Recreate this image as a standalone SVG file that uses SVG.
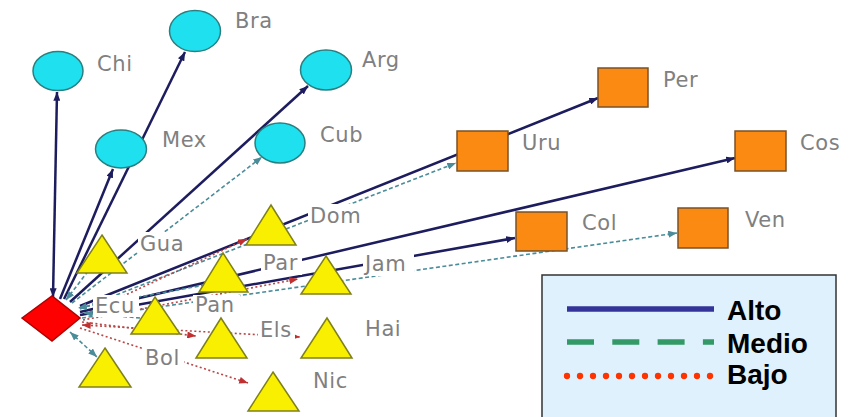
<svg xmlns="http://www.w3.org/2000/svg" width="854" height="417" viewBox="0 0 854 417">
<style>
.alto{stroke:#1c1c5e;stroke-width:2.5;fill:none}
.medio{stroke:#4a8c99;stroke-width:1.6;stroke-dasharray:4 2.5;fill:none}
.bajo{stroke:#b84646;stroke-width:1.6;stroke-dasharray:2 2.5;fill:none}
.circ{fill:#1fe0ee;stroke:#2b7f80;stroke-width:1.5}
.sq{fill:#fb8a12;stroke:#7a5228;stroke-width:1.5}
.tri{fill:#f8f000;stroke:#80801a;stroke-width:1.5}
.lbl{font-family:"DejaVu Sans",Verdana,sans-serif;font-size:21px;fill:#808080;letter-spacing:0.6px}
.bg{fill:#ffffff}
.leg{font-family:"Liberation Sans",Arial,sans-serif;font-size:28px;font-weight:bold;fill:#000}
</style>
<defs>
<marker id="aN" viewBox="0 0 10 8" markerWidth="9" markerHeight="7" refX="10" refY="4" orient="auto-start-reverse" markerUnits="userSpaceOnUse"><path d="M0,0 L10,4 L0,8 z" fill="#1c1c5e"/></marker>
<marker id="aT" viewBox="0 0 10 8" markerWidth="9" markerHeight="7" refX="10" refY="4" orient="auto-start-reverse" markerUnits="userSpaceOnUse"><path d="M0,0 L10,4 L0,8 z" fill="#4a8c99"/></marker>
<marker id="aR" viewBox="0 0 10 8" markerWidth="9" markerHeight="7" refX="10" refY="4" orient="auto-start-reverse" markerUnits="userSpaceOnUse"><path d="M0,0 L10,4 L0,8 z" fill="#c03030"/></marker>
</defs>
<rect width="854" height="417" fill="#ffffff"/>
<g id="connectors">
<line class="alto" x1="53" y1="297" x2="57" y2="92" marker-start="url(#aN)" marker-end="url(#aN)"/>
<line class="alto" x1="60" y1="299" x2="113" y2="169" marker-end="url(#aN)"/>
<line class="alto" x1="64" y1="299" x2="185" y2="52" marker-end="url(#aN)"/>
<line class="alto" x1="70" y1="302" x2="308" y2="86" marker-end="url(#aN)"/>
<line class="medio" x1="72" y1="303" x2="262" y2="157" marker-end="url(#aT)"/>
<line class="medio" x1="92" y1="266" x2="66" y2="300" marker-end="url(#aT)"/>
<line class="alto" x1="80" y1="306" x2="598" y2="98" marker-end="url(#aN)"/>
<line class="medio" x1="80" y1="309" x2="456" y2="163" marker-end="url(#aT)"/>
<line class="bajo" x1="82" y1="315" x2="247" y2="239" marker-end="url(#aR)"/>
<line class="alto" x1="80" y1="312" x2="735" y2="158" marker-end="url(#aN)"/>
<line class="alto" x1="80" y1="315" x2="515" y2="238" marker-end="url(#aN)"/>
<line class="medio" x1="82" y1="318" x2="677" y2="233" marker-end="url(#aT)"/>
<line class="bajo" x1="83" y1="320" x2="298" y2="279" marker-end="url(#aR)"/>
<line class="medio" x1="205" y1="285" x2="78" y2="308" marker-end="url(#aT)"/>
<line class="medio" x1="140" y1="318" x2="84" y2="313" marker-end="url(#aT)"/>
<line class="bajo" x1="82" y1="322" x2="196" y2="336" marker-end="url(#aR)"/>
<line class="bajo" x1="82" y1="325" x2="300" y2="337" marker-start="url(#aR)" marker-end="url(#aR)"/>
<line class="bajo" x1="80" y1="328" x2="248" y2="383" marker-end="url(#aR)"/>
<line class="medio" x1="70" y1="332" x2="97" y2="357" marker-start="url(#aT)" marker-end="url(#aT)"/>
</g>
<g id="Ecu"><polygon points="22,318 52,296 80,318 52,341" fill="#ff0000" stroke="#b00000" stroke-width="1.5"/><rect class="bg" x="93" y="295" width="46" height="22"/><text class="lbl" x="95" y="313">Ecu</text></g>
<g id="Chi"><ellipse class="circ" cx="58" cy="71" rx="25" ry="19.5"/><rect class="bg" x="95" y="53" width="40" height="22"/><text class="lbl" x="97" y="71">Chi</text></g>
<g id="Bra"><ellipse class="circ" cx="195" cy="31" rx="25.5" ry="20.5"/><rect class="bg" x="233" y="10" width="42" height="22"/><text class="lbl" x="235" y="28">Bra</text></g>
<g id="Arg"><ellipse class="circ" cx="326" cy="70" rx="25.5" ry="20"/><rect class="bg" x="360" y="49" width="45" height="23"/><text class="lbl" x="362" y="67">Arg</text></g>
<g id="Mex"><ellipse class="circ" cx="121" cy="149" rx="25.5" ry="19"/><rect class="bg" x="160" y="129" width="49" height="22"/><text class="lbl" x="162" y="147">Mex</text></g>
<g id="Cub"><ellipse class="circ" cx="280" cy="143" rx="25" ry="20"/><rect class="bg" x="318" y="124" width="47" height="22"/><text class="lbl" x="320" y="142">Cub</text></g>
<g id="Per"><rect class="sq" x="598" y="68" width="50" height="39"/><rect class="bg" x="661" y="69" width="39" height="22"/><text class="lbl" x="663" y="87">Per</text></g>
<g id="Uru"><rect class="sq" x="457" y="131" width="51" height="40"/><rect class="bg" x="520" y="132" width="45" height="22"/><text class="lbl" x="522" y="150">Uru</text></g>
<g id="Cos"><rect class="sq" x="735" y="131" width="51" height="40"/><rect class="bg" x="798" y="132" width="46" height="22"/><text class="lbl" x="800" y="150">Cos</text></g>
<g id="Col"><rect class="sq" x="516" y="212" width="51" height="39"/><rect class="bg" x="580" y="212" width="39" height="22"/><text class="lbl" x="582" y="230">Col</text></g>
<g id="Ven"><rect class="sq" x="678" y="208" width="50" height="40"/><rect class="bg" x="743" y="209" width="46" height="22"/><text class="lbl" x="745" y="227">Ven</text></g>
<g id="Gua"><polygon class="tri" points="102,235 127,273 77,273"/><rect class="bg" x="138" y="232" width="51" height="24"/><text class="lbl" x="140" y="251">Gua</text></g>
<g id="Dom"><polygon class="tri" points="271,205 296,245 246,245"/><rect class="bg" x="308" y="204" width="59" height="23"/><text class="lbl" x="310" y="223">Dom</text></g>
<g id="Par"><polygon class="tri" points="223,253 248,292 199,292"/><rect class="bg" x="261" y="252" width="41" height="23"/><text class="lbl" x="263" y="270">Par</text></g>
<g id="Jam"><polygon class="tri" points="326,256 351,294 301,294"/><rect class="bg" x="363" y="253" width="51" height="23"/><text class="lbl" x="365" y="271">Jam</text></g>
<g id="Pan"><polygon class="tri" points="155,297 180,334 131,334"/><rect class="bg" x="193" y="295" width="47" height="22"/><text class="lbl" x="195" y="312">Pan</text></g>
<g id="Els"><polygon class="tri" points="221,318 247,358 196,358"/><rect class="bg" x="258" y="319" width="37" height="22"/><text class="lbl" x="260" y="337">Els</text></g>
<g id="Hai"><polygon class="tri" points="327,318 352,358 301,358"/><rect class="bg" x="363" y="318" width="42" height="22"/><text class="lbl" x="365" y="336">Hai</text></g>
<g id="Bol"><polygon class="tri" points="105,348 131,387 79,387"/><rect class="bg" x="143" y="347" width="41" height="22"/><text class="lbl" x="145" y="365">Bol</text></g>
<g id="Nic"><polygon class="tri" points="273,372 299,411 248,411"/><rect class="bg" x="311" y="370" width="41" height="22"/><text class="lbl" x="313" y="388">Nic</text></g>
<g id="legend">
<rect x="542" y="275" width="294" height="160" fill="#dff1fd" stroke="#333333" stroke-width="1.5"/>
<line x1="567" y1="309" x2="714" y2="309" stroke="#333399" stroke-width="5.5"/>
<line x1="567" y1="342" x2="714" y2="342" stroke="#339966" stroke-width="5.5" stroke-dasharray="27 18.3"/>
<line x1="567" y1="376" x2="711" y2="376" stroke="#ff3300" stroke-width="6.3" stroke-linecap="round" stroke-dasharray="0 13"/>
<text class="leg" x="727" y="320">Alto</text>
<text class="leg" x="727" y="353">Medio</text>
<text class="leg" x="727" y="384">Bajo</text>
</g>
</svg>
